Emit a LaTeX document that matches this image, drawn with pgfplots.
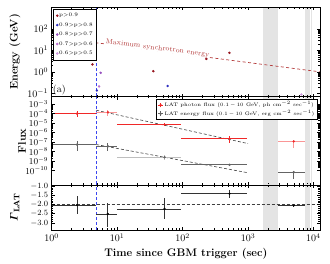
\documentclass[border=0pt]{standalone}
\usepackage{pgfplots}
\pgfplotsset{compat=1.18}
\usepackage{amsmath}
\definecolor{drk}{RGB}{150,20,30}
\definecolor{bl}{RGB}{40,40,190}
\definecolor{pu1}{RGB}{150,80,190}
\definecolor{pu2}{RGB}{185,110,205}
\definecolor{pu3}{RGB}{205,150,220}
\definecolor{syn}{RGB}{180,60,60}
\definecolor{fr}{RGB}{240,40,40}
\definecolor{frl}{RGB}{250,150,150}
\definecolor{eg}{RGB}{100,100,100}
\definecolor{egl}{RGB}{190,190,190}
\definecolor{band}{RGB}{228,228,228}
\definecolor{vb}{RGB}{60,70,240}
\begin{document}
\begin{tikzpicture}
\path[use as bounding box] (-51.7pt,7.3pt) rectangle (278.3pt,-256.7pt);
\pgfplotsset{
  every axis/.append style={
    width=268.3pt, scale only axis, xmode=log, xmin=1, xmax=12600,
    xtick={1,10,100,1000,10000},
    tick align=inside, major tick length=3pt, minor tick length=1.7pt,
    tick style={black, line width=0.4pt},
    tick label style={font=\fontsize{10}{11}\selectfont},
    axis on top, clip=true,
    ylabel style={anchor=center, font=\bfseries\fontsize{11}{13}\selectfont},
  },
  mybands/.style={fill=band, draw=none, forget plot},
}
% ---------------- top panel ----------------
\begin{axis}[at={(0pt,0pt)}, anchor=north west, height=89.4pt,
  ymode=log, ymin=0.07, ymax=1000, ytick={0.1,1,10,100},
  xticklabels={},
  ylabel={Energy (GeV)}, ylabel style={at={(axis description cs:-0.1368,0.5)}},
  legend style={at={(0.005,0.981)}, anchor=north west, font=\fontsize{5.3}{6}\selectfont,
    draw=black, fill=white, row sep=2.6pt, inner sep=3pt, line width=0.5pt,
    nodes={inner sep=0.9pt}},
  legend cell align=left]
\addplot[mybands] coordinates {(1720,1e-3)(2920,1e-3)(2920,1e4)(1720,1e4)} -- cycle;
\addplot[mybands] coordinates {(7470,1e-3)(8900,1e-3)(8900,1e4)(7470,1e4)} -- cycle;
\addplot[mybands] coordinates {(9300,1e-3)(9600,1e-3)(9600,1e4)(9300,1e4)} -- cycle;
\addplot[vb, line width=0.6pt, dash pattern=on 3pt off 2pt, forget plot] coordinates {(4.8,1e-3)(4.8,1e4)};
\addplot[syn, line width=0.7pt, dash pattern=on 3pt off 2.5pt, forget plot] coordinates {(1,41.7)(12600,1.0)};
\node[syn, rotate=-7.4, fill=white, inner sep=0.3pt, font=\fontsize{7}{8}\selectfont] at (axis cs:41,9.6) [yshift=2.5pt] {Maximum synchrotron energy};
\addplot[only marks, mark=*, mark size=1pt, drk] coordinates {(4.2,2.2)(35.7,1.07)(231,4.0)(520,7.65)};
\addlegendentry{p$>$0.9}
\addplot[only marks, mark=*, mark size=1pt, bl] coordinates {(4.9,0.136)(59,0.22)};
\addlegendentry{0.9$>$p$>$0.8}
\addplot[only marks, mark=*, mark size=1pt, pu1] coordinates {(5.6,0.9)};
\addlegendentry{0.8$>$p$>$0.7}
\addplot[only marks, mark=*, mark size=1pt, pu2] coordinates {(5.3,0.21)};
\addlegendentry{0.7$>$p$>$0.6}
\addplot[only marks, mark=*, mark size=1pt, pu3] coordinates {(6550,0.089)};
\addlegendentry{0.6$>$p$>$0.5}
\node[anchor=south west, inner sep=1pt, font=\fontsize{10}{11}\selectfont] at (rel axis cs:0,0) {(a)};
\end{axis}
% ---------------- middle panel ----------------
\begin{axis}[at={(0pt,-89.4pt)}, anchor=north west, height=88.3pt,
  ymode=log, ymin=3e-12, ymax=6e-3,
  ytick={1e-10,1e-9,1e-8,1e-7,1e-6,1e-5,1e-4,1e-3},
  yticklabel style={font=\fontsize{9}{10}\selectfont},
  xticklabels={},
  ylabel={Flux}, ylabel style={at={(axis description cs:-0.1107,0.5)}},
  legend style={at={(0.989,0.974)}, anchor=north east, font=\fontsize{5}{6}\selectfont,
    draw=black, fill=white, row sep=0pt, inner sep=1.5pt, line width=0.5pt,
    nodes={inner sep=0.9pt}},
  legend cell align=left,
  error bars/error mark=none]
\addplot[mybands] coordinates {(1720,1e-13)(2920,1e-13)(2920,1)(1720,1)} -- cycle;
\addplot[mybands] coordinates {(7470,1e-13)(8900,1e-13)(8900,1)(7470,1)} -- cycle;
\addplot[mybands] coordinates {(9300,1e-13)(9600,1e-13)(9600,1)(9300,1)} -- cycle;
\addplot[vb, line width=0.6pt, dash pattern=on 3pt off 2pt, forget plot] coordinates {(4.8,1e-13)(4.8,1)};
\addplot[black!75, line width=0.6pt, dash pattern=on 3pt off 2pt, forget plot] coordinates {(4.8,2.24e-4)(1000,6.9e-8)};
\addplot[black!75, line width=0.6pt, dash pattern=on 3pt off 2pt, forget plot] coordinates {(4.8,5.5e-8)(1000,5.8e-11)};
% photon flux
\addplot[fr, only marks, mark=*, mark size=1pt,
  legend image code/.code={\draw[fr, line width=0.7pt] (0.12cm,-0.08cm)--(0.12cm,0.08cm); \draw[fr, line width=0.7pt] (0.02cm,0cm)--(0.22cm,0cm); \fill[fr] (0.12cm,0cm) circle (0.9pt);},
  error bars/.cd, x dir=both, x explicit, y dir=both, y explicit,
  error bar style={fr, line width=0.7pt}]
  coordinates {
  (2.44,1e-4) += (2.36,7.4e-5) -= (1.44,5.5e-5)
  (53,6.9e-6) += (43,2.5e-6) -= (43,2e-6)
  (523,2.3e-7) += (437,2.5e-7) -= (427,1.5e-7)
  };
\addlegendentry{LAT photon flux (0.1$\,-\,$10 GeV, ph cm$^{-2}$ sec$^{-1}$)}
\addplot[fr, only marks, mark=*, mark size=1pt, forget plot,
  error bars/.cd, x dir=both, x explicit, y dir=both, y explicit,
  error bar style={frl, line width=1pt}]
  coordinates {
  (7.2,1.38e-4) += (2.8,8.2e-5) -= (2.4,7.6e-5)
  (5000,1.2e-7) += (2470,2e-8) -= (2080,9.5e-8)
  };
% energy flux
\addplot[eg, only marks, mark=*, mark size=1pt,
  legend image code/.code={\draw[eg, line width=0.7pt] (0.12cm,-0.08cm)--(0.12cm,0.08cm); \draw[eg, line width=0.7pt] (0.02cm,0cm)--(0.22cm,0cm); \fill[eg] (0.12cm,0cm) circle (0.9pt);},
  error bars/.cd, x dir=both, x explicit, y dir=both, y explicit,
  error bar style={eg, line width=0.7pt}]
  coordinates {
  (2.44,5.5e-8) += (2.36,6.5e-8) -= (1.44,4.4e-8)
  (7.2,3.6e-8) += (2.8,4.7e-8) -= (2.4,2.5e-8)
  (523,4e-10) += (437,1.5e-10) -= (427,1e-10)
  (5000,6.6e-11) += (2470,1.9e-11) -= (2080,5.2e-11)
  };
\addlegendentry{LAT energy flux (0.1$\,-\,$10 GeV, erg cm$^{-2}$ sec$^{-1}$)}
\addplot[eg, only marks, mark=*, mark size=1pt, forget plot,
  error bars/.cd, x dir=both, x explicit, y dir=both, y explicit,
  error bar style={egl, line width=0.9pt}]
  coordinates {
  (53,2.5e-9) += (43,2.3e-9) -= (43,1.3e-9)
  };
\end{axis}
% ---------------- bottom panel ----------------
\begin{axis}[at={(0pt,-177.7pt)}, anchor=north west, height=45pt,
  ymin=-3.38, ymax=-0.95,
  ytick={-3,-2.5,-2,-1.5,-1}, minor y tick num=4,
  yticklabel style={font=\fontsize{8.5}{9}\selectfont, /pgf/number format/fixed, /pgf/number format/fixed zerofill, /pgf/number format/precision=1},
  ylabel={$\boldsymbol{\varGamma}_{\mathbf{LAT}}$}, ylabel style={at={(axis description cs:-0.1379,0.5)}},
  xlabel={Time since GBM trigger (sec)},
  xlabel style={font=\bfseries\fontsize{11}{13}\selectfont},
  error bars/error mark=none]
\addplot[mybands] coordinates {(1720,-5)(2920,-5)(2920,0)(1720,0)} -- cycle;
\addplot[mybands] coordinates {(7470,-5)(8900,-5)(8900,0)(7470,0)} -- cycle;
\addplot[mybands] coordinates {(9300,-5)(9600,-5)(9600,0)(9300,0)} -- cycle;
\addplot[vb, line width=0.6pt, dash pattern=on 3pt off 2pt, forget plot] coordinates {(4.8,-5)(4.8,0)};
\addplot[black!75, line width=0.5pt, dash pattern=on 3pt off 2pt, forget plot] coordinates {(1,-2)(12600,-2)};
\addplot[black, only marks, mark=*, mark size=0.9pt,
  error bars/.cd, x dir=both, x explicit, y dir=both, y explicit,
  error bar style={black!80, line width=0.6pt}]
  coordinates {
  (2.44,-2.03) += (2.36,0.49) -= (1.44,0.49)
  (7.2,-2.51) += (2.8,0.57) -= (2.4,0.69)
  (53,-2.24) += (43,0.59) -= (43,0.54)
  (523,-1.42) += (437,0.22) -= (427,0.22)
  (5000,-2.06) += (2470,0.04) -= (2080,0.04)
  };
\end{axis}
\end{tikzpicture}
\end{document}
